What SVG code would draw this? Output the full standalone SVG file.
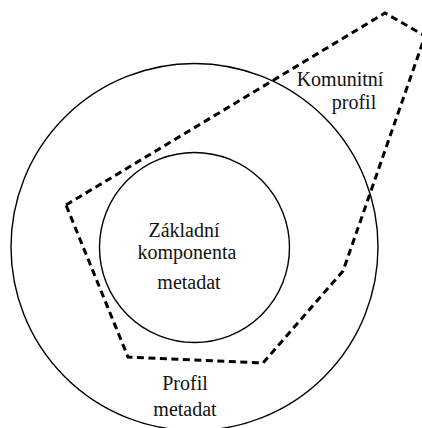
<svg xmlns="http://www.w3.org/2000/svg" width="422" height="428" viewBox="0 0 422 428">
<style>
.c{fill:none;stroke:#000;stroke-width:1.4}
.d{fill:none;stroke:#000;stroke-width:3;stroke-dasharray:7 4.5;stroke-linejoin:miter}
text{font-family:"Liberation Serif","Times New Roman",serif;font-size:20px;fill:#111;text-anchor:middle}
</style>
<rect width="422" height="428" fill="#fff"/>
<g id="profil-metadat">
<circle class="c" cx="194.5" cy="247" r="183.5"/>
<text x="185" y="390">Profil</text>
<text x="185" y="416">metadat</text>
</g>
<g id="zakladni-komponenta">
<circle class="c" cx="194.5" cy="247.5" r="95"/>
<text x="184" y="237">Základní</text>
<text x="187" y="259">komponenta</text>
<text x="189" y="289">metadat</text>
</g>
<g id="komunitni-profil">
<polygon class="d" points="66,205 385,13 425,36 343,271 263,363 128,357"/>
<text x="340" y="86">Komunitní</text>
<text x="354" y="109">profil</text>
</g>
<g id="connectors"/>
</svg>
